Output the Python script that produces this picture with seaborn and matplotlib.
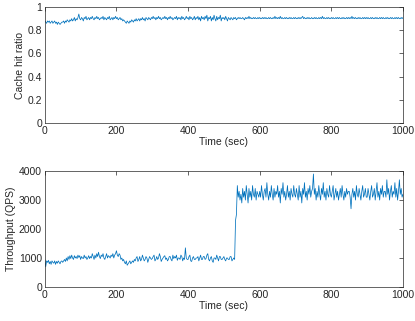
import numpy as np
import matplotlib
matplotlib.use("Agg")
import matplotlib.pyplot as plt
import seaborn as sns

time_sec = np.arange(0, 1000.1, 2.5)

hit_ratio = [
    0.88, 0.87, 0.86, 0.88, 0.87, 0.88, 0.86, 0.87, 0.88, 0.86, 0.87, 0.88, 0.86, 0.87, 0.85, 0.87, 0.86, 0.85, 0.86, 0.87,
    0.87, 0.88, 0.86, 0.88, 0.87, 0.89, 0.88, 0.87, 0.89, 0.88, 0.90, 0.88, 0.89, 0.91, 0.88, 0.90, 0.89, 0.91, 0.94, 0.90,
    0.89, 0.91, 0.90, 0.88, 0.91, 0.90, 0.92, 0.89, 0.90, 0.91, 0.89, 0.91, 0.90, 0.92, 0.90, 0.89, 0.91, 0.90, 0.92, 0.90,
    0.91, 0.89, 0.90, 0.91, 0.90, 0.92, 0.89, 0.91, 0.90, 0.89, 0.91, 0.90, 0.92, 0.89, 0.90, 0.91, 0.89, 0.91, 0.90, 0.92,
    0.90, 0.91, 0.89, 0.90, 0.91, 0.89, 0.90, 0.88, 0.89, 0.88, 0.87, 0.86, 0.88, 0.87, 0.86, 0.88, 0.87, 0.89, 0.88, 0.87,
    0.89, 0.88, 0.90, 0.88, 0.89, 0.90, 0.88, 0.90, 0.89, 0.91, 0.89, 0.90, 0.88, 0.91, 0.90, 0.89, 0.91, 0.90, 0.89, 0.91,
    0.90, 0.92, 0.90, 0.91, 0.89, 0.91, 0.90, 0.92, 0.90, 0.91, 0.89, 0.90, 0.91, 0.90, 0.92, 0.90, 0.91, 0.89, 0.91, 0.90,
    0.92, 0.90, 0.91, 0.89, 0.90, 0.91, 0.90, 0.92, 0.89, 0.91, 0.90, 0.91, 0.89, 0.92, 0.90, 0.91, 0.89, 0.90, 0.92, 0.90,
    0.91, 0.89, 0.92, 0.90, 0.91, 0.89, 0.90, 0.92, 0.89, 0.91, 0.90, 0.92, 0.89, 0.91, 0.88, 0.92, 0.90, 0.91, 0.89, 0.92,
    0.90, 0.93, 0.88, 0.91, 0.90, 0.92, 0.88, 0.91, 0.89, 0.93, 0.90, 0.88, 0.92, 0.89, 0.91, 0.90, 0.93, 0.88, 0.91, 0.90,
    0.91, 0.89, 0.92, 0.90, 0.88, 0.91, 0.90, 0.89, 0.91, 0.90, 0.89, 0.91, 0.90, 0.91, 0.89, 0.90, 0.91, 0.90, 0.91, 0.90,
    0.90, 0.91, 0.90, 0.89, 0.91, 0.90, 0.91, 0.90, 0.92, 0.90, 0.91, 0.90, 0.90, 0.91, 0.90, 0.91, 0.90, 0.90, 0.91, 0.90,
    0.91, 0.90, 0.90, 0.91, 0.90, 0.91, 0.90, 0.91, 0.90, 0.90, 0.91, 0.90, 0.91, 0.90, 0.90, 0.91, 0.90, 0.92, 0.90, 0.91,
    0.90, 0.91, 0.90, 0.92, 0.90, 0.91, 0.90, 0.90, 0.91, 0.90, 0.91, 0.90, 0.90, 0.91, 0.90, 0.91, 0.90, 0.90, 0.91, 0.90,
    0.91, 0.90, 0.90, 0.91, 0.90, 0.91, 0.90, 0.91, 0.92, 0.90, 0.91, 0.90, 0.90, 0.91, 0.90, 0.91, 0.90, 0.90, 0.91, 0.90,
    0.90, 0.91, 0.90, 0.91, 0.90, 0.90, 0.91, 0.90, 0.91, 0.90, 0.92, 0.90, 0.91, 0.90, 0.90, 0.91, 0.90, 0.91, 0.90, 0.90,
    0.91, 0.90, 0.91, 0.90, 0.90, 0.91, 0.90, 0.91, 0.90, 0.91, 0.90, 0.90, 0.91, 0.90, 0.91, 0.90, 0.90, 0.91, 0.90, 0.91,
    0.90, 0.91, 0.90, 0.92, 0.90, 0.91, 0.90, 0.91, 0.90, 0.90, 0.91, 0.90, 0.91, 0.90, 0.90, 0.91, 0.90, 0.91, 0.90, 0.91,
    0.90, 0.91, 0.90, 0.90, 0.91, 0.90, 0.91, 0.90, 0.90, 0.91, 0.90, 0.91, 0.90, 0.90, 0.91, 0.90, 0.91, 0.90, 0.91, 0.90,
    0.90, 0.91, 0.90, 0.91, 0.90, 0.90, 0.91, 0.90, 0.91, 0.90, 0.90, 0.91, 0.90, 0.91, 0.90, 0.91, 0.90, 0.90, 0.91, 0.90,
    0.91,
]

throughput = [
    950, 700, 900, 850, 920, 800, 880, 780, 900, 850, 820, 900, 780, 880, 820, 900, 850, 800, 880, 900,
    850, 900, 950, 880, 1000, 900, 1050, 950, 1080, 980, 1100, 1000, 950, 1080, 1000, 1050, 980, 1100, 1020, 1080,
    950, 1050, 1000, 980, 1100, 1000, 1050, 950, 1000, 1080, 980, 1050, 1000, 1150, 1050, 950, 1100, 1000, 1150, 1050,
    1200, 1050, 980, 1100, 1050, 1150, 1000, 950, 1050, 1150, 1000, 1080, 1050, 1000, 1100, 1050, 1150, 1000, 1100, 1150,
    1250, 1100, 1050, 1150, 1100, 950, 1000, 900, 950, 850, 800, 900, 750, 800, 850, 900, 800, 850, 900, 850,
    950, 900, 1000, 1050, 880, 950, 1050, 900, 950, 1100, 1000, 900, 950, 1050, 1000, 850, 950, 1050, 1000, 950,
    980, 1050, 1100, 900, 950, 1050, 950, 1000, 1150, 1050, 880, 950, 1000, 1050, 1080, 950, 1000, 900, 950, 1050,
    1050, 950, 900, 1100, 980, 1050, 1000, 1100, 920, 1000, 1000, 950, 1100, 1050, 900, 1000, 950, 1350, 1000, 950,
    950, 1050, 1100, 900, 880, 1000, 1050, 950, 950, 1000, 1000, 1050, 900, 1000, 1100, 950, 950, 1050, 1050, 950,
    980, 1100, 1150, 950, 900, 1000, 1050, 900, 850, 1000, 1000, 950, 1100, 1000, 900, 1050, 1050, 950, 950, 1000,
    1050, 950, 900, 1000, 1000, 950, 950, 1050, 1050, 900, 950, 1000, 950, 2300, 2500, 3500, 3100, 3300, 3000, 3200,
    2900, 3400, 3100, 3300, 3000, 3500, 3200, 2900, 3400, 3100, 3300, 3000, 3500, 3200, 3100, 3400, 3000, 3300, 3200, 3100,
    3300, 3100, 3500, 3200, 3000, 3300, 3400, 3100, 3600, 3200, 3000, 3300, 3100, 3500, 3200, 3000, 3400, 3100, 3300, 3200,
    3500, 3100, 3300, 2900, 3400, 3200, 3600, 3100, 3300, 3000, 3200, 3500, 3100, 3300, 3000, 3400, 3200, 3100, 3500, 3200,
    3100, 3400, 3200, 3000, 3500, 3100, 3300, 2900, 3400, 3200, 3600, 3100, 3300, 3000, 3400, 3200, 3500, 3100, 3300, 3400,
    3900, 3200, 3400, 3000, 3300, 3100, 3500, 3200, 3000, 3400, 3200, 3600, 3100, 3300, 3000, 3400, 3200, 3100, 3500, 3200,
    3100, 3300, 3500, 3000, 3200, 3400, 3100, 3300, 3000, 3200, 3400, 3100, 3500, 3200, 3000, 3300, 3100, 3400, 3200, 3300,
    3300, 3100, 2700, 3200, 3400, 3100, 3300, 3000, 3500, 3200, 3100, 3400, 3200, 3000, 3300, 3500, 3100, 3200, 3400, 3100,
    3100, 3400, 3200, 3000, 3300, 3500, 3100, 3200, 3400, 3000, 3300, 3600, 3100, 3300, 3000, 3400, 3200, 3500, 3100, 3300,
    3300, 3100, 3700, 3200, 3400, 3000, 3300, 3500, 3100, 3300, 3200, 3600, 3100, 3400, 3000, 3300, 3700, 3200, 3400, 3100,
    3200,
]

sns.set_style("white")
plt.rcParams["font.family"] = ["Liberation Sans", "DejaVu Sans"]
plt.rcParams["font.size"] = 7.5

fig = plt.figure(figsize=(4.15, 3.21), dpi=100)
ax1 = fig.add_axes([0.108, 0.617, 0.863, 0.361])
ax2 = fig.add_axes([0.108, 0.106, 0.863, 0.361])

line_color = "#0072BD"
sns.lineplot(x=time_sec, y=hit_ratio, ax=ax1, color=line_color, linewidth=0.55)
sns.lineplot(x=time_sec, y=throughput, ax=ax2, color=line_color, linewidth=0.55)

ax1.set_ylim(0, 1)
ax1.set_yticks([0, 0.2, 0.4, 0.6, 0.8, 1])
ax1.set_yticklabels(["0", "0.2", "0.4", "0.6", "0.8", "1"])
ax1.set_ylabel("Cache hit ratio", labelpad=2)

ax2.set_ylim(0, 4000)
ax2.set_yticks([0, 1000, 2000, 3000, 4000])
ax2.set_ylabel("Throughput (QPS)", labelpad=2)

for ax in (ax1, ax2):
    ax.set_xlim(0, 1000)
    ax.set_xticks([0, 200, 400, 600, 800, 1000])
    ax.set_xlabel("Time (sec)", labelpad=1)
    ax.tick_params(direction="in", top=True, right=True, length=3,
                   width=0.5, colors="#262626", labelsize=7.5, pad=2)
    for s in ax.spines.values():
        s.set_linewidth(0.5)
        s.set_color("#262626")
        s.set_visible(True)

fig.savefig("out.png", dpi=100)
